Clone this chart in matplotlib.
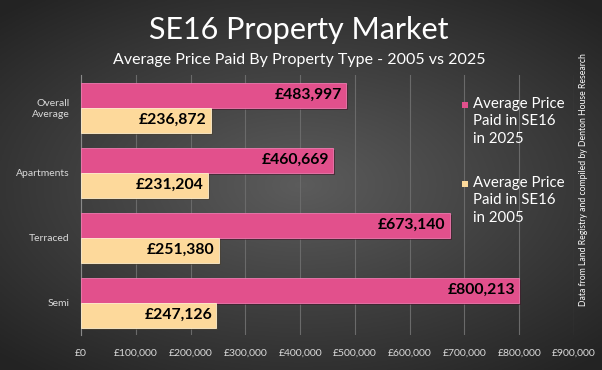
# -*- coding: utf-8 -*-

""" SE16 property market - average price paid by property type, 2005 vs 2025 """

import matplotlib
matplotlib.use('Agg')
import matplotlib.pyplot as plt
import matplotlib.patheffects as pe
from matplotlib.patches import Rectangle
from matplotlib.ticker import FuncFormatter, MultipleLocator
import numpy as np

# => DATA
categories = ['Overall\nAverage', 'Apartments', 'Terraced', 'Semi']
price_2025 = [483997, 460669, 673140, 800213]
price_2005 = [236872, 231204, 251380, 247126]
label_2025 = 'Average Price\nPaid in SE16\nin 2025'
label_2005 = 'Average Price\nPaid in SE16\nin 2005'

PINK = '#E2508C'
PEACH = '#FDD99B'
GRID = '#6a6a6a'
TXT = '#d9d9d9'

plt.rcParams['font.family'] = ['Lato', 'DejaVu Sans']

fig = plt.figure(figsize=(6.02, 3.70), dpi=100)
W, H = 602, 370

# => RADIAL GRADIENT BACKGROUND
bg = fig.add_axes([0, 0, 1, 1], zorder=-10)
gx, gy = np.meshgrid(np.linspace(-1, 1, 300), np.linspace(-1, 1, 200))
r = np.sqrt((gx / 1.1) ** 2 + (gy / 1.0) ** 2)
shade = np.clip(0.36 - 0.17 * r, 0.14, 0.4)
bg.imshow(np.dstack([shade] * 3), aspect='auto', extent=[0, 1, 0, 1])
bg.axis('off')

ax = fig.add_axes([81 / W, 1 - 335 / H, (574 - 81) / W, 260 / H])
ax.set_facecolor('none')

y = np.arange(len(categories))
h = 25 / 65
shadow = [pe.SimplePatchShadow(offset=(1.5, -1.5), alpha=0.6), pe.Normal()]

b25 = ax.barh(y - h / 2, price_2025, height=h, color=PINK, edgecolor='#f07ab0',
              linewidth=0.6, zorder=3)
b05 = ax.barh(y + h / 2, price_2005, height=h, color=PEACH, edgecolor='#fff0d0',
              linewidth=0.6, zorder=3)
for bar in list(b25) + list(b05):
    bar.set_path_effects(shadow)

for bars in (b25, b05):
    ax.bar_label(bars, labels=['£{:,.0f}'.format(v) for v in bars.datavalues],
                 padding=-3, fontsize=11.3, fontweight='bold', color='black')
    for t in ax.texts[-len(bars):]:
        t.set_horizontalalignment('right')

ax.set_xlim(0, 900000)
ax.set_ylim(3.5, -0.5)
ax.xaxis.set_major_locator(MultipleLocator(100000))
ax.xaxis.set_major_formatter(FuncFormatter(lambda v, p: '£{:,.0f}'.format(v)))
ax.grid(axis='x', color=GRID, linewidth=0.8, zorder=0)
ax.set_yticks(y)
ax.set_yticklabels(categories, fontsize=7.5, color=TXT)
ax.tick_params(axis='x', colors=TXT, labelsize=7.5, length=0, pad=10)
ax.tick_params(axis='y', length=0, pad=8)
for side in ('top', 'right', 'bottom'):
    ax.spines[side].set_visible(False)
ax.spines['left'].set_color('#8a8a8a')

# => LEGEND (marker sits on the first line of each entry)
for top, col, lab in ((105, PINK, label_2025), (184, PEACH, label_2005)):
    fig.patches.append(Rectangle((462 / W, 1 - (top + 3) / H), 6 / W, 6 / H,
                                 transform=fig.transFigure, facecolor=col,
                                 edgecolor='none'))
    fig.text(473 / W, 1 - (top - 8) / H, lab, ha='left', va='top', color='white',
             fontsize=10.8, linespacing=1.3)

fig.text(299 / W, 1 - 39 / H, 'SE16 Property Market', ha='center', va='baseline',
         color='white', fontsize=22)
fig.text(299 / W, 1 - 64 / H, 'Average Price Paid By Property Type - 2005 vs 2025',
         ha='center', va='baseline', color='white', fontsize=11.5)
fig.text(583 / W, 1 - 180 / H,
         'Data from Land Registry and compiled by Denton House Research',
         rotation=90, ha='center', va='center', color='white', fontsize=6.2)

fig.savefig('out.png', dpi=100)
